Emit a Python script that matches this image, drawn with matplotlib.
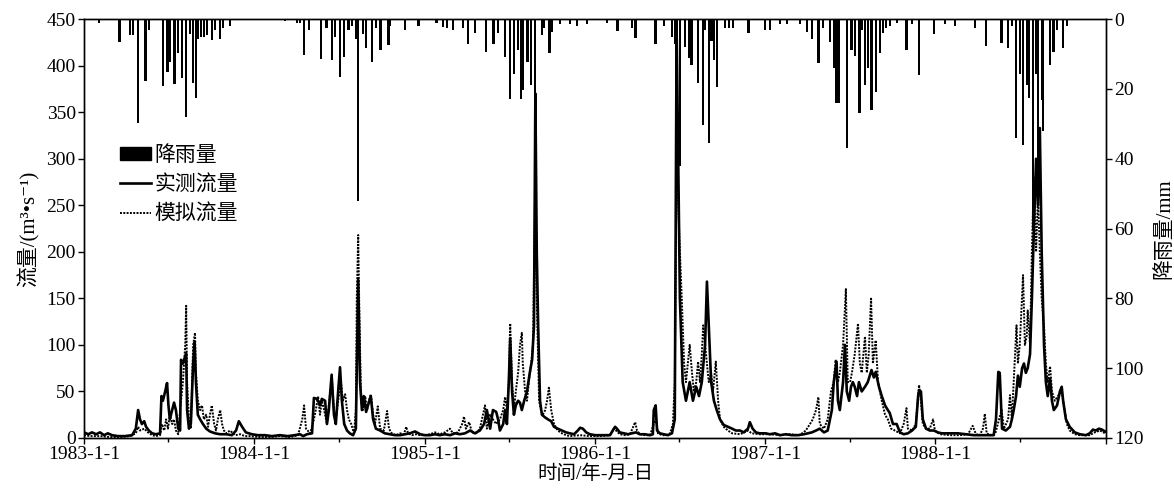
import matplotlib
matplotlib.use("Agg")
import matplotlib.pyplot as plt
import matplotlib.dates as mdates
from matplotlib.patches import Patch
from matplotlib.lines import Line2D
import pandas as pd

plt.rcParams['font.family'] = ['Liberation Serif', 'Noto Sans CJK SC', 'DejaVu Sans']

START = pd.Timestamp('1983-01-01')

# observed flow (m3/s): day index since 1983-01-01, value
obs_day = [0, 9, 17, 26, 34, 43, 51, 60, 73, 88, 103, 111, 116, 120, 124, 129, 133, 139, 146, 154,
           163, 166, 169, 174, 178, 181, 184, 189, 193, 197, 202, 206, 208, 212, 219, 221, 225, 229,
           234, 237, 240, 244, 249, 255, 262, 270, 281, 292, 305, 317, 326, 332, 339, 347, 360, 373,
           388, 403, 420, 437, 452, 463, 470, 478, 489, 493, 500, 506, 510, 517, 521, 525, 531, 536,
           540, 545, 549, 553, 558, 564, 570, 577, 583, 588, 592, 596, 600, 605, 609, 615, 620, 626,
           635, 645, 656, 667, 678, 688, 699, 710, 721, 731, 742, 753, 763, 774, 785, 796, 806, 817,
           828, 838, 849, 858, 864, 871, 877, 884, 888, 892, 899, 903, 907, 911, 914, 918, 922, 926,
           931, 935, 939, 944, 950, 956, 961, 965, 968, 971, 974, 978, 982, 989, 995, 1002, 1008,
           1016, 1025, 1034, 1042, 1051, 1059, 1064, 1070, 1077, 1085, 1096, 1107, 1117, 1128, 1134,
           1139, 1143, 1149, 1158, 1167, 1175, 1184, 1192, 1203, 1214, 1220, 1222, 1226, 1229, 1235,
           1244, 1252, 1261, 1267, 1271, 1278, 1284, 1291, 1299, 1306, 1313, 1319, 1325, 1332, 1336,
           1340, 1345, 1351, 1357, 1364, 1372, 1381, 1390, 1398, 1407, 1415, 1424, 1428, 1434, 1441,
           1449, 1462, 1471, 1482, 1493, 1505, 1518, 1531, 1544, 1553, 1561, 1570, 1578, 1587, 1595,
           1604, 1608, 1614, 1617, 1621, 1628, 1632, 1636, 1641, 1645, 1649, 1653, 1658, 1662, 1668,
           1675, 1681, 1689, 1694, 1698, 1705, 1711, 1718, 1724, 1728, 1735, 1743, 1750, 1758, 1767,
           1776, 1784, 1789, 1791, 1795, 1799, 1806, 1814, 1823, 1831, 1840, 1857, 1874, 1891, 1909,
           1926, 1943, 1951, 1956, 1961, 1964, 1969, 1977, 1986, 1990, 1994, 1999, 2003, 2007, 2012,
           2016, 2020, 2024, 2029, 2033, 2037, 2042, 2046, 2050, 2054, 2059, 2063, 2067, 2072, 2076,
           2080, 2087, 2093, 2097, 2100, 2106, 2114, 2125, 2136, 2149, 2157, 2164, 2170, 2177, 2183,
           2190]
obs_val = [6, 4, 6, 4, 6, 3, 5, 3, 2, 2, 3, 10, 30, 20, 15, 18, 12, 8, 5, 4,
           5, 45, 40, 50, 59, 35, 20, 30, 38, 30, 10, 8, 84, 80, 91, 30, 10, 15,
           80, 103, 60, 25, 20, 15, 10, 7, 5, 4, 4, 3, 8, 18, 12, 6, 4, 3,
           3, 2, 3, 2, 3, 4, 2, 4, 5, 43, 42, 35, 42, 40, 15, 30, 68, 25,
           15, 50, 76, 40, 15, 8, 5, 3, 10, 170, 60, 30, 45, 28, 35, 45, 20, 10,
           8, 5, 4, 3, 3, 4, 5, 7, 4, 3, 3, 4, 3, 4, 3, 5, 4, 5,
           8, 5, 8, 15, 30, 10, 30, 28, 20, 8, 15, 30, 15, 60, 107, 50, 25, 35,
           40, 38, 30, 40, 50, 70, 84, 120, 370, 200, 120, 40, 25, 22, 20, 18, 12,
           10, 8, 6, 5, 4, 8, 11, 10, 6, 4, 3, 3, 3, 3, 8,
           12, 10, 6, 5, 4, 5, 6, 4, 4, 3, 4, 30, 35, 8, 5,
           4, 3, 5, 20, 440, 150, 60, 40, 60, 40, 55, 45, 60, 100, 168,
           120, 60, 40, 30, 20, 14, 12, 10, 8, 8, 6, 10, 17, 10, 6,
           5, 5, 4, 5, 3, 4, 3, 3, 4, 5, 6, 8, 10, 6, 8,
           30, 60, 82, 40, 30, 60, 100, 50, 40, 55, 60, 55, 45, 60, 50,
           55, 60, 73, 65, 71, 55, 45, 35, 30, 27, 15, 15, 6, 4, 5,
           8, 12, 45, 51, 50, 20, 10, 8, 8, 6, 5, 5, 5, 4, 3,
           3, 3, 3, 20, 71, 70, 10, 8, 12, 20, 30, 45, 67, 55, 75,
           80, 70, 75, 90, 150, 220, 300, 250, 333, 200, 100, 60, 45, 64, 40,
           30, 35, 50, 55, 40, 20, 12, 6, 4, 3, 5, 9, 8, 10, 9,
           7]

# simulated flow (m3/s)
sim_day = [0, 13, 34, 56, 77, 99, 111, 116, 120, 129, 137, 146, 154, 163, 167, 172, 176, 180, 184,
           189, 193, 197, 202, 206, 212, 217, 219, 221, 225, 229, 234, 238, 240, 244, 249, 253, 257,
           262, 266, 270, 274, 279, 283, 287, 292, 296, 300, 305, 313, 324, 335, 345, 356, 377, 399,
           420, 442, 459, 468, 472, 476, 485, 493, 497, 502, 506, 510, 515, 521, 528, 532, 536, 540,
           545, 551, 555, 560, 564, 568, 573, 579, 583, 585, 588, 590, 594, 598, 603, 607, 611, 615,
           620, 624, 630, 635, 643, 650, 654, 660, 669, 678, 686, 691, 695, 703, 712, 721, 731, 742,
           753, 763, 774, 785, 791, 802, 811, 815, 819, 826, 832, 841, 849, 860, 864, 871, 877, 884,
           892, 899, 903, 907, 911, 914, 918, 922, 926, 931, 935, 939, 941, 946, 950, 954, 959, 963,
           967, 971, 976, 980, 984, 989, 993, 997, 1002, 1008, 1016, 1025, 1034, 1042, 1064, 1085,
           1107, 1128, 1136, 1141, 1149, 1160, 1171, 1182, 1186, 1192, 1203, 1214, 1222, 1227, 1231,
           1240, 1248, 1257, 1263, 1267, 1271, 1278, 1282, 1287, 1291, 1295, 1299, 1304, 1308, 1313,
           1317, 1321, 1325, 1328, 1332, 1336, 1340, 1345, 1349, 1355, 1360, 1364, 1372, 1381, 1390,
           1407, 1424, 1432, 1449, 1471, 1493, 1514, 1535, 1548, 1557, 1563, 1570, 1575, 1578, 1587,
           1595, 1602, 1608, 1612, 1617, 1621, 1628, 1634, 1638, 1643, 1647, 1653, 1660, 1664, 1668,
           1675, 1679, 1683, 1688, 1692, 1698, 1703, 1707, 1711, 1718, 1724, 1731, 1739, 1750, 1758,
           1764, 1767, 1776, 1784, 1791, 1795, 1799, 1806, 1814, 1821, 1825, 1836, 1857, 1879, 1896,
           1906, 1913, 1921, 1928, 1932, 1936, 1943, 1954, 1960, 1968, 1973, 1982, 1986, 1990, 1994,
           2000, 2003, 2007, 2014, 2018, 2022, 2024, 2029, 2033, 2037, 2042, 2046, 2050, 2054, 2059,
           2063, 2067, 2072, 2076, 2082, 2089, 2097, 2103, 2108, 2114, 2125, 2136, 2157, 2168, 2179,
           2190]
sim_val = [3, 2, 2, 1, 1, 2, 5, 12, 8, 10, 6, 3, 2, 3, 15, 8, 20, 10, 25,
           15, 20, 8, 4, 30, 60, 100, 142, 60, 20, 10, 100, 113, 70, 40, 30, 35, 20,
           25, 12, 25, 35, 15, 8, 20, 30, 15, 8, 5, 8, 3, 4, 2, 2, 1, 1,
           2, 1, 3, 20, 35, 10, 5, 20, 30, 45, 25, 40, 30, 15, 50, 60, 30, 20,
           40, 60, 40, 47, 30, 20, 15, 5, 30, 150, 218, 150, 40, 30, 45, 30, 40, 47,
           25, 15, 34, 10, 8, 29, 10, 5, 3, 5, 4, 12, 5, 3, 4, 3, 3, 4,
           6, 4, 6, 10, 5, 6, 15, 23, 10, 17, 6, 5, 10, 35, 10, 25, 20, 15,
           20, 30, 44, 30, 60, 123, 60, 30, 50, 70, 100, 113, 80, 50, 40, 60, 80, 100,
           250, 150, 40, 30, 25, 30, 40, 54, 30, 15, 8, 5, 3, 2, 3, 2,
           2, 3, 10, 8, 4, 3, 4, 17, 8, 4, 3, 3, 15, 20, 5,
           3, 3, 5, 15, 60, 300, 200, 150, 80, 60, 80, 100, 70, 50, 60,
           82, 60, 90, 121, 100, 80, 60, 70, 50, 82, 40, 20, 12, 8, 5,
           4, 8, 5, 4, 4, 3, 4, 3, 8, 15, 20, 30, 44, 15, 10,
           20, 50, 60, 84, 60, 70, 100, 160, 60, 60, 70, 90, 123, 80, 70,
           109, 70, 90, 151, 80, 105, 60, 50, 40, 25, 20, 10, 8, 5, 15,
           32, 10, 8, 15, 57, 40, 15, 10, 10, 20, 8, 4, 3, 3, 4,
           13, 4, 3, 10, 26, 5, 3, 4, 15, 30, 10, 20, 46, 20, 60,
           121, 80, 100, 175, 100, 110, 137, 100, 200, 280, 200, 260, 200, 150, 120,
           80, 60, 77, 50, 40, 45, 50, 30, 15, 8, 4, 3, 3, 6, 8,
           5]

# daily rainfall (mm)
rain_day = [32, 76, 99, 105, 116, 132, 139, 169, 179, 184, 194, 202, 210, 219, 227, 234, 240, 245,
            251, 257, 264, 274, 281, 292, 298, 313, 431, 457, 463, 472, 483, 508, 520, 532, 538, 549,
            558, 567, 574, 583, 588, 599, 605, 617, 626, 636, 653, 656, 688, 717, 756, 770, 778, 791,
            813, 824, 838, 862, 878, 888, 903, 914, 922, 931, 937, 942, 951, 958, 967, 982, 986, 998,
            1004, 1021, 1042, 1057, 1079, 1121, 1144, 1175, 1183, 1226, 1244, 1261, 1267, 1271, 1278,
            1289, 1298, 1303, 1317, 1327, 1332, 1340, 1346, 1351, 1358, 1375, 1383, 1392, 1425, 1460,
            1471, 1493, 1508, 1535, 1550, 1562, 1575, 1585, 1600, 1608, 1613, 1618, 1636, 1646, 1653,
            1663, 1669, 1675, 1681, 1689, 1698, 1707, 1714, 1720, 1728, 1743, 1764, 1776, 1791, 1823,
            1846, 1868, 1911, 1934, 1968, 1982, 1990, 1999, 2007, 2014, 2022, 2027, 2035, 2043, 2046,
            2054, 2057, 2072, 2079, 2087, 2100, 2108]
rain_val = [1, 6.5, 4.6, 4.6, 29.7, 17.7, 3, 19.2, 15, 12.2, 18.6, 9.8, 17, 28, 4.2, 18.4, 22.7, 5.7,
            5, 5, 4.5, 6, 3, 5.8, 2.6, 2, 0.6, 1, 1, 10.3, 3.2, 11.3, 2.4, 11.6, 5, 16.5,
            10.8, 3, 2, 5.7, 52, 4.3, 8.4, 12.2, 2.4, 8.9, 7.4, 2, 3, 2, 1, 2.3, 2.6, 3.2,
            2.6, 7, 4, 9.4, 7, 4.1, 10.8, 23, 15.6, 8.9, 23, 20.3, 12.2, 18.9, 40, 4.6, 2.4, 9.8,
            3.6, 1.5, 1.5, 2, 1.5, 1, 3.4, 2.6, 5.5, 7, 2, 5, 7, 21, 42,
            8, 11, 13.2, 18.4, 30.4, 3, 35.6, 6.3, 11.6, 19.4, 2.5, 2.5, 2.5, 4, 3,
            3, 1.5, 1.5, 1.5, 3.6, 5.6, 12.7, 2.6, 6.5, 14, 24, 24, 37, 8.8, 10.6,
            27, 3, 19, 14, 25.9, 20.8, 9.8, 4, 2.5, 2, 1, 8.9, 1.5, 16, 4.3,
            1.5, 2, 2.4, 7.7, 6.7, 8.4, 2, 34, 15.6, 36, 19, 22.7, 60, 15.6, 50,
            23.3, 32, 13, 9.5, 3, 8.3, 2]

flow_ticks = list(range(0, 451, 50))
rain_ticks = list(range(0, 121, 20))
year_ticks = ['1983-1-1', '1984-1-1', '1985-1-1', '1986-1-1', '1987-1-1', '1988-1-1']


def to_dates(days):
    return START + pd.to_timedelta(days, unit='D')


fig = plt.figure(figsize=(11.74, 4.91), dpi=100)
ax = fig.add_axes([0.0716, 0.108, 0.8705, 0.853])

DOT = (0, (1, 0.7))
ax.plot(to_dates(sim_day), sim_val, color='black', linestyle=DOT, linewidth=1.4)
ax.plot(to_dates(obs_day), obs_val, color='black', linestyle='-', linewidth=1.9)

ax.set_ylim(0, 450)
ax.set_yticks(flow_ticks)
ax.set_xlim(pd.Timestamp('1983-01-01'), pd.Timestamp('1989-01-01'))
ax.xaxis.set_minor_locator(mdates.MonthLocator(bymonth=7))
ax.set_xticks([pd.Timestamp(y) for y in ['1983-01-01', '1984-01-01', '1985-01-01', '1986-01-01',
                                         '1987-01-01', '1988-01-01', '1989-01-01']])
ax.set_xticklabels(year_ticks + [''])
ax.tick_params(axis='both', which='major', direction='out', length=4, width=1, labelsize=14)
ax.tick_params(axis='x', which='minor', direction='out', length=3, width=1)
ax.tick_params(axis='x', which='major', pad=2)
ax.tick_params(axis='y', which='major', pad=2)
ax.set_ylabel('流量/(m³•s⁻¹)', fontsize=15, labelpad=5)
ax.set_xlabel('时间/年-月-日', fontsize=14, labelpad=1)

ax2 = ax.twinx()
ax2.bar(to_dates(rain_day), rain_val, width=5, color='black', linewidth=0, align='center')
ax2.set_ylim(120, 0)
ax2.set_yticks(rain_ticks)
ax2.tick_params(axis='y', direction='out', length=4, width=1, labelsize=14, pad=2)
ax2.set_ylabel('降雨量/mm', fontsize=15, labelpad=8)

for a in (ax, ax2):
    for s in a.spines.values():
        s.set_linewidth(1.0)

handles = [Patch(facecolor='black', edgecolor='black'),
           Line2D([], [], color='black', linewidth=1.9),
           Line2D([], [], color='black', linestyle=DOT, linewidth=1.4)]
ax.legend(handles, ['降雨量', '实测流量', '模拟流量'], loc='upper left',
          bbox_to_anchor=(0.035, 0.697), frameon=False, fontsize=15,
          handlelength=1.5, handleheight=0.55, handletextpad=0.15, labelspacing=0.45,
          borderaxespad=0, borderpad=0)

fig.savefig('out.png', dpi=100)
